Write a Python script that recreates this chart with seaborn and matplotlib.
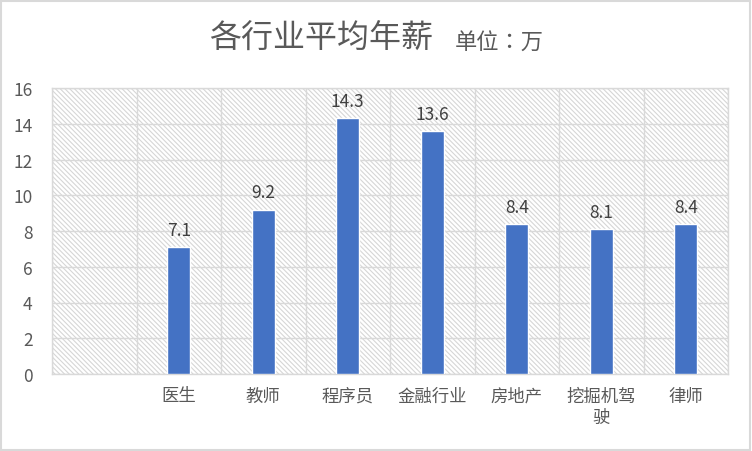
import numpy as np
import pandas as pd
import matplotlib
matplotlib.use("Agg")
import matplotlib.pyplot as plt
import seaborn as sns
from matplotlib.patches import Rectangle
from matplotlib.ticker import MultipleLocator, FixedLocator

categories = ["", "医生", "教师", "程序员", "金融行业", "房地产", "挖掘机驾\n驶", "律师"]
values = [np.nan, 7.1, 9.2, 14.3, 13.6, 8.4, 8.1, 8.4]
title = "各行业平均年薪"
unit = "单位：万"

sns.set_style("white")
plt.rcParams["font.family"] = ["Noto Sans CJK SC", "DejaVu Sans"]
plt.rcParams["hatch.color"] = "#d6d6d6"
plt.rcParams["hatch.linewidth"] = 0.8

df = pd.DataFrame({"cat": categories, "val": values})

W, H = 752, 452
fig = plt.figure(figsize=(W / 100, H / 100), dpi=100)
left, right, top, bottom = 52, 728, 89, 375
ax = fig.add_axes([left / W, (H - bottom) / H, (right - left) / W, (bottom - top) / H])

ax.patch.set_facecolor("white")
ax.patch.set_hatch("\\" * 7)
ax.patch.set_edgecolor("#d6d6d6")

sns.barplot(data=df.dropna(), x="cat", y="val", order=categories, color="#4472C4",
            saturation=1, width=0.27, ax=ax, zorder=3)

ax.set_xlim(-0.5, len(categories) - 0.5)
ax.set_ylim(0, 16)
ax.yaxis.set_major_locator(MultipleLocator(2))
ax.xaxis.set_minor_locator(FixedLocator(np.arange(-0.5, len(categories), 1.0)))
ax.grid(axis="y", which="major", color="#d9d9d9", linewidth=1.0, zorder=1)
ax.grid(axis="x", which="minor", color="#d9d9d9", linewidth=1.0, zorder=1)
ax.set_axisbelow(True)
for s in ax.spines.values():
    s.set_visible(True)
    s.set_color("#d9d9d9")
    s.set_linewidth(1.0)

ax.set_xlabel("")
ax.set_ylabel("")
ax.tick_params(axis="both", which="both", length=0)
ax.tick_params(axis="y", labelsize=12.5, labelcolor="#595959", pad=14)
ax.tick_params(axis="x", labelsize=12.5, labelcolor="#595959", pad=9)
for lab in ax.get_xticklabels():
    lab.set_linespacing(1.25)

for c in ax.containers:
    ax.bar_label(c, fmt="%.1f", padding=6, fontsize=12.5, color="#404040")

fig.text(433 / W, 1 - 39 / H, title, ha="right", va="center", fontsize=23, color="#595959")
fig.text(455 / W, 1 - 43 / H, unit, ha="left", va="center", fontsize=16, color="#595959",
         family=["Noto Sans CJK TC", "Noto Sans CJK SC", "DejaVu Sans"])

fig.patches.append(Rectangle((1 / W, 1 / H), (W - 3) / W, (H - 3) / H, transform=fig.transFigure,
                             fill=False, edgecolor="#d9d9d9", linewidth=1.5))

fig.savefig("out.png", dpi=100)
